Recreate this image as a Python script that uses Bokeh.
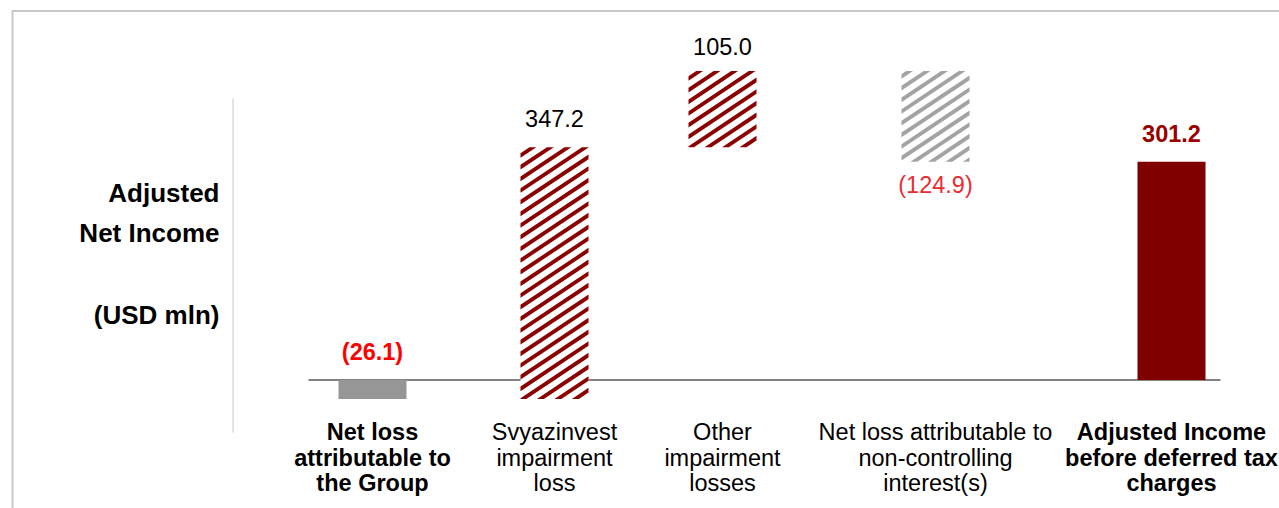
import math
from bokeh.plotting import figure
from bokeh.models import ColumnDataSource, Range1d
from bokeh.core.properties import value
from bokeh.embed import file_html
from bokeh.resources import INLINE

# ---------------- data ----------------
categories = [
    "Net loss\nattributable to\nthe Group",
    "Svyazinvest\nimpairment\nloss",
    "Other\nimpairment\nlosses",
    "Net loss attributable to\nnon-controlling\ninterest(s)",
    "Adjusted Income\nbefore deferred tax\ncharges",
]
values = [-26.1, 347.2, 105.0, -124.9, 301.2]
kinds = ["total", "step", "step", "step", "total"]
y_title = "Adjusted\nNet Income\n\n(USD mln)"

# ---------------- layout / style ----------------
slots = [0.0, 0.91, 1.75, 2.815, 3.995]          # horizontal slot of each category
bar_fill = ["#969696", "#FFFFFF", "#FFFFFF", "#FFFFFF", "#800000"]
stripe_col = [None, "#8B0000", "#8B0000", "#A3A3A3", None]
lab_color = ["#FF0000", "#000000", "#000000", "#EE2A30", "#990000"]
lab_style = ["bold", "normal", "normal", "normal", "bold"]
lab_side = ["above", "above", "above", "below", "above"]
lab_gap = [28, 29, 25, 23, 28]
cat_style = ["bold", "normal", "normal", "normal", "bold"]

FONT = value("Liberation Sans")
W, H = 1279, 508
U = 200.0     # px per slot unit
S = 0.725     # px per USD mln
ZERO_PY = 379.5
X0_PX = 372.0
BAR_PX = 68
STRIPE_PERIOD = 35 / 3   # vertical period of the diagonal stripes, px
STRIPE_SLOPE = 2 / 3
STRIPE_HALF = 2.3        # half vertical thickness, px

def X(px):
    return (px - X0_PX) / U

def Y(py):
    return (ZERO_PY - py) / S

def PX(x):
    return X0_PX + x * U

def PY(y):
    return ZERO_PY - y * S

def clip_poly(pts, L, R, T, B):
    def clip_edge(pts, inside, inter):
        out = []
        for i in range(len(pts)):
            cur, prev = pts[i], pts[i - 1]
            if inside(cur):
                if not inside(prev):
                    out.append(inter(prev, cur))
                out.append(cur)
            elif inside(prev):
                out.append(inter(prev, cur))
        return out

    def ix(p, q, xv):
        t = (xv - p[0]) / (q[0] - p[0])
        return (xv, p[1] + t * (q[1] - p[1]))

    def iy(p, q, yv):
        t = (yv - p[1]) / (q[1] - p[1])
        return (p[0] + t * (q[0] - p[0]), yv)

    for inside, inter in (
        (lambda p: p[0] >= L, lambda p, q: ix(p, q, L)),
        (lambda p: p[0] <= R, lambda p, q: ix(p, q, R)),
        (lambda p: p[1] >= T, lambda p, q: iy(p, q, T)),
        (lambda p: p[1] <= B, lambda p, q: iy(p, q, B)),
    ):
        if not pts:
            break
        pts = clip_edge(pts, inside, inter)
    return pts

# waterfall
bottoms, tops = [], []
run = 0.0
for v, k in zip(values, kinds):
    if k == "total":
        b, t = 0.0, v
    else:
        b, t = run, run + v
    run = t
    bottoms.append(b)
    tops.append(t)

labels = [f"({abs(v):.1f})" if v < 0 else f"{v:.1f}" for v in values]
lab_y = [max(b, t) if s == "above" else min(b, t) for b, t, s in zip(bottoms, tops, lab_side)]
lab_off = [-g if s == "above" else g for g, s in zip(lab_gap, lab_side)]

# diagonal stripes for the hatched bars, clipped to each bar
st_xs, st_ys, st_col = [], [], []
M, PV, HV = STRIPE_SLOPE, STRIPE_PERIOD, STRIPE_HALF
for xs, b, t, col in zip(slots, bottoms, tops, stripe_col):
    if col is None:
        continue
    L, R = PX(xs) - BAR_PX / 2, PX(xs) + BAR_PX / 2
    T, B = PY(max(b, t)), PY(min(b, t))
    kmin = math.floor((T + M * L) / PV) - 1
    kmax = math.ceil((B + M * R) / PV) + 1
    for k in range(kmin, kmax + 1):
        c = k * PV
        a, z = L - 5, R + 5
        band = [(a, c - M * a - HV), (z, c - M * z - HV), (z, c - M * z + HV), (a, c - M * a + HV)]
        poly = clip_poly(band, L, R, T, B)
        if len(poly) >= 3:
            st_xs.append([X(px) for px, _ in poly])
            st_ys.append([Y(py) for _, py in poly])
            st_col.append(col)

src = ColumnDataSource(dict(
    x=slots, bottom=bottoms, top=tops, fill=bar_fill,
    label=labels, lab_y=lab_y, lab_off=lab_off, lab_color=lab_color, lab_style=lab_style,
    cat=categories, cat_style=cat_style, zero=[0.0] * len(values),
))

p = figure(width=W, height=H, output_backend="svg", toolbar_location=None,
           x_axis_location=None, y_axis_location=None, min_border=0,
           x_range=Range1d(X(0), X(W)),
           y_range=Range1d(Y(H), Y(0)))
p.grid.visible = False
p.outline_line_color = None
p.background_fill_color = "white"
p.border_fill_color = "white"

# slide frame (top/left edges visible)
p.quad(left=[X(12)], right=[X(2000)], top=[Y(10.5)], bottom=[Y(900)],
       fill_color=None, line_color="#C8C8C8", line_width=2)
# separator line
p.segment(x0=[X(232.5)], x1=[X(232.5)], y0=[Y(98)], y1=[Y(432)],
          line_color="#C8C8C8", line_width=1)
# zero line
p.segment(x0=[X(308)], x1=[X(1220)], y0=[0], y1=[0], line_color="#595959", line_width=1.5)

p.vbar(x="x", width=BAR_PX / U, bottom="bottom", top="top", source=src,
       fill_color="fill", line_color=None)
p.patches(xs=st_xs, ys=st_ys, fill_color=st_col, line_color=None)

p.text(x="x", y="lab_y", text="label", source=src, y_offset="lab_off",
       text_align="center", text_baseline="alphabetic", text_font=FONT,
       text_font_size=value("23.5px"), text_font_style="lab_style", text_color="lab_color")

p.text(x="x", y="zero", text="cat", source=src, y_offset=39,
       text_align="center", text_baseline="top", text_font=FONT,
       text_font_size=value("23.5px"), text_font_style="cat_style", text_color="#000000",
       text_line_height=0.99)

p.text(x=[X(219)], y=[Y(177)], text=[y_title], text_align="right", text_baseline="top",
       text_font=FONT, text_font_size=value("26px"), text_font_style="bold",
       text_color="#000000", text_line_height=1.36)

open("out.html", "w").write(file_html(p, INLINE))
